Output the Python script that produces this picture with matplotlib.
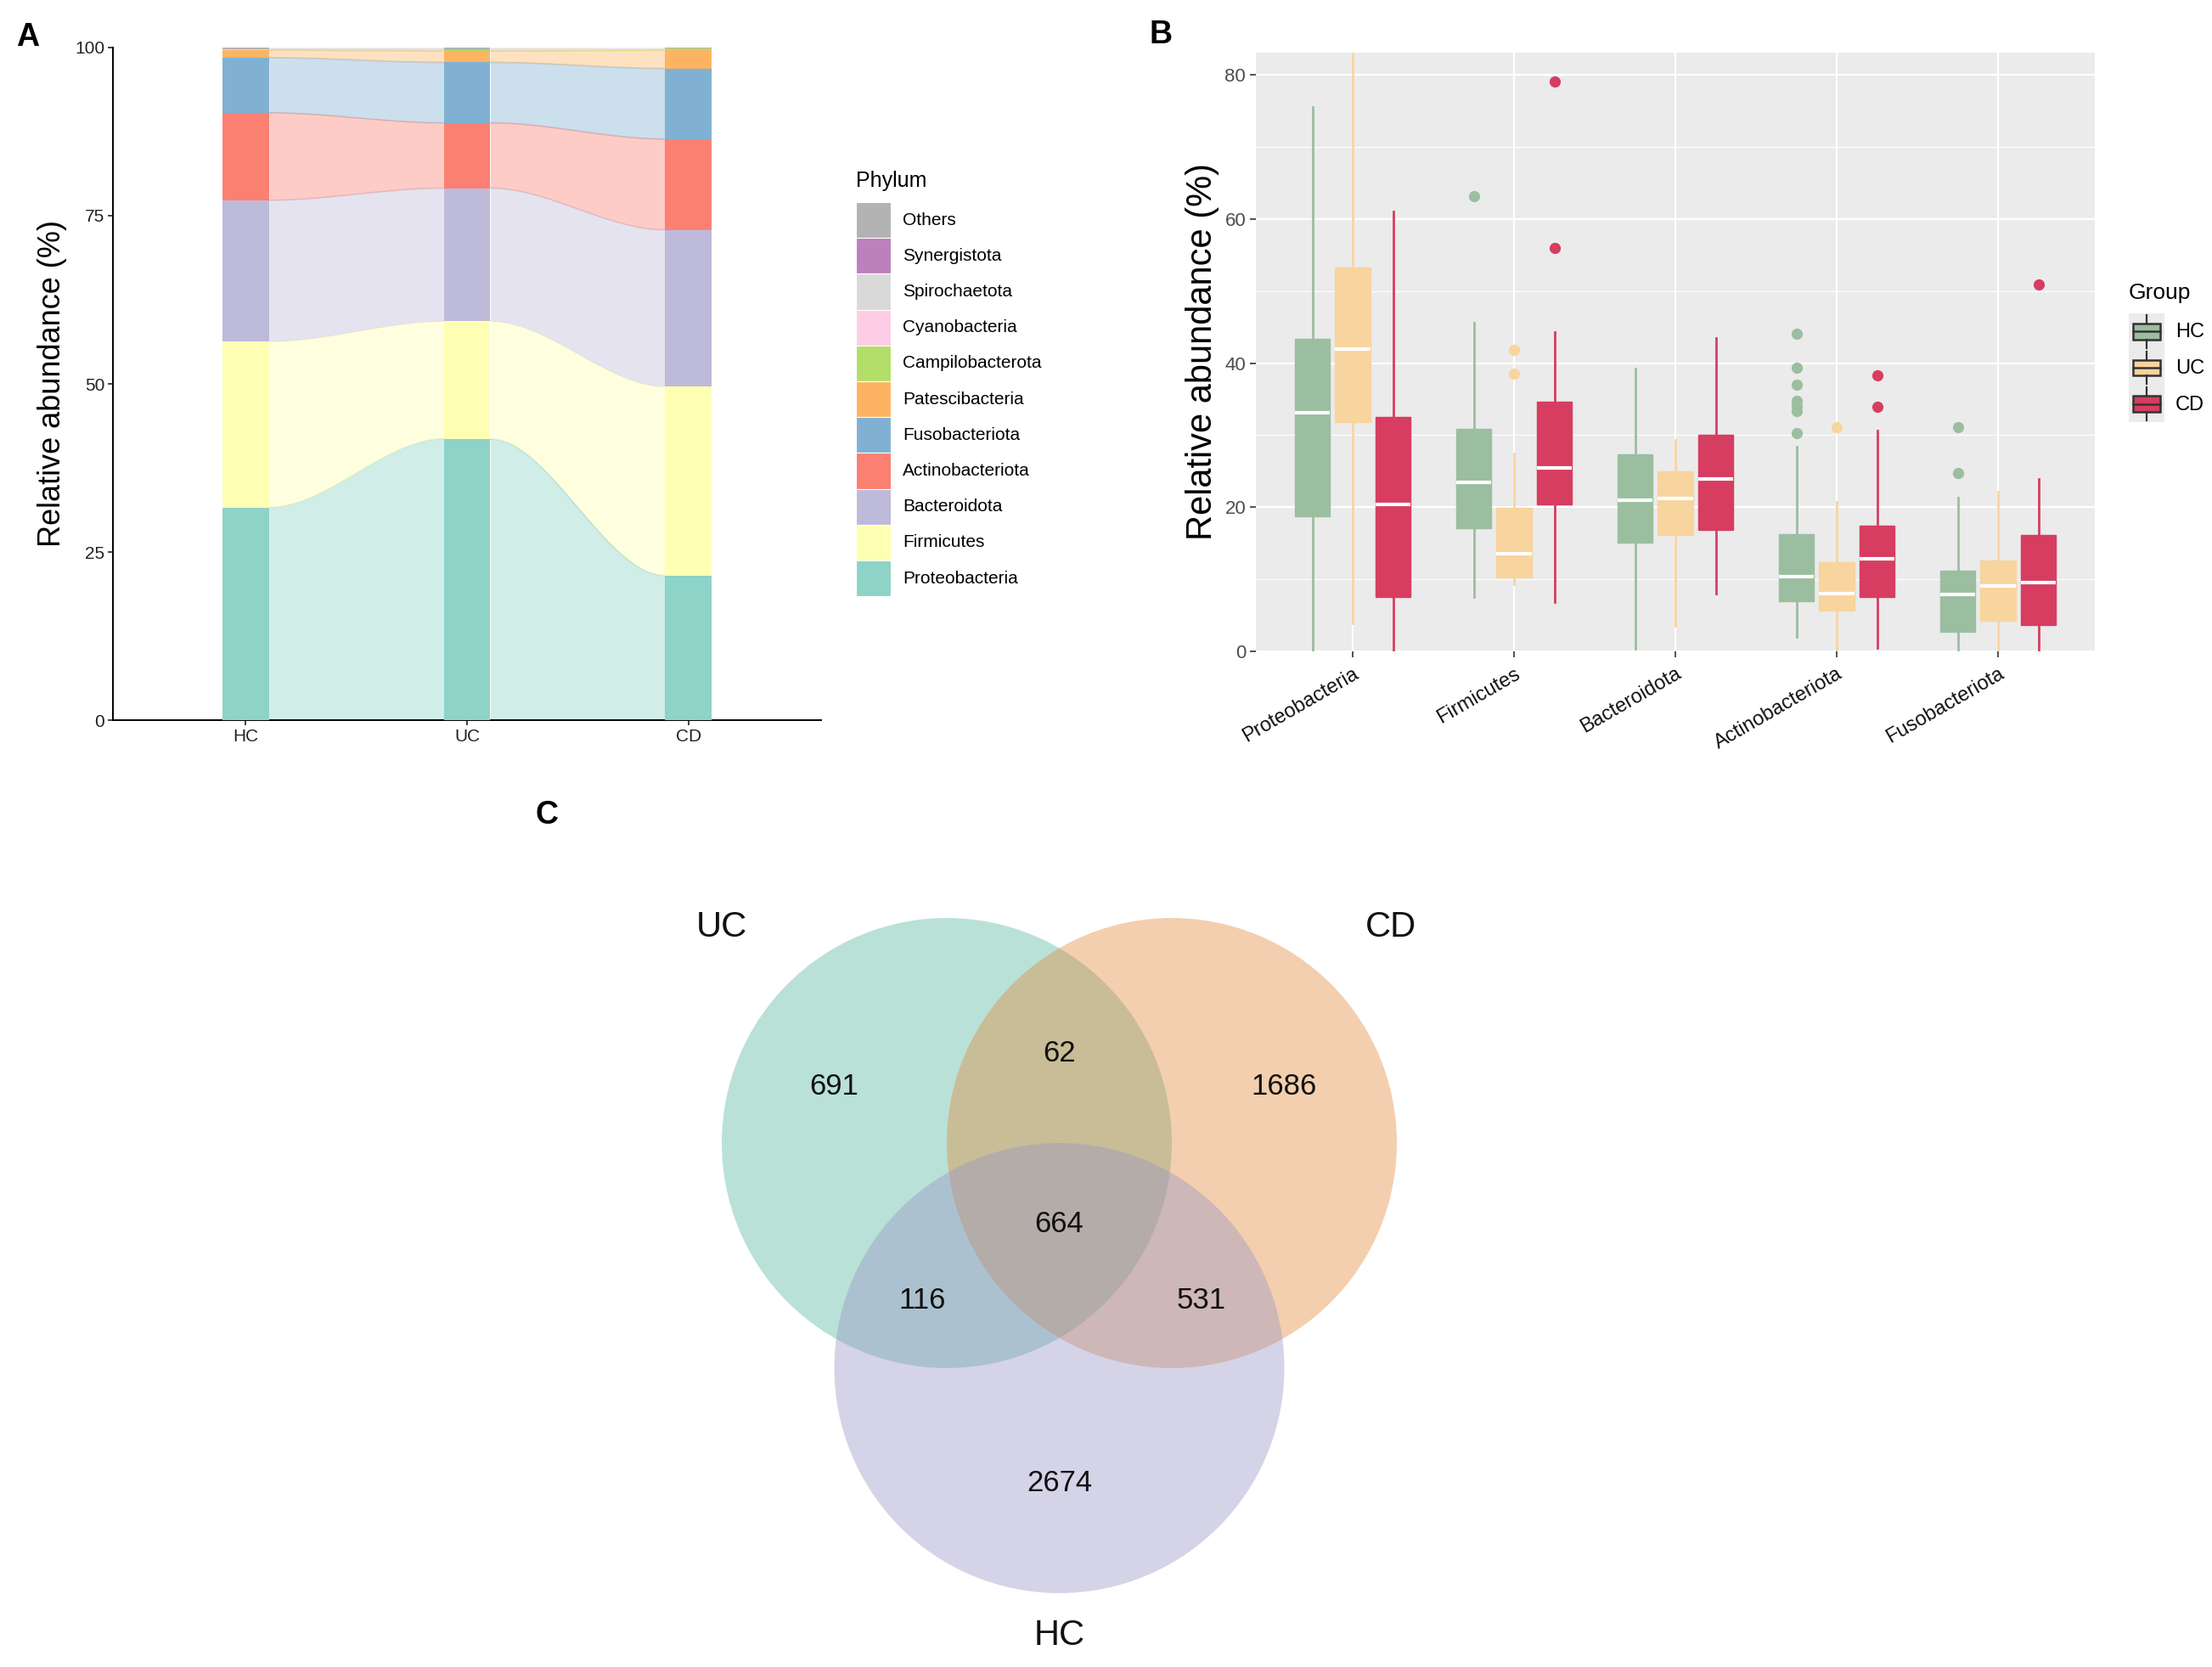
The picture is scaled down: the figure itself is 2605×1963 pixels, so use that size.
import numpy as np
import matplotlib.pyplot as plt
from matplotlib.patches import Circle, Rectangle

plt.rcParams['font.family'] = ['Liberation Sans', 'DejaVu Sans']

# ---------------- panel A: relative abundance per group (stacked, bottom -> top)
groups = ['HC', 'UC', 'CD']
phyla = ['Proteobacteria', 'Firmicutes', 'Bacteroidota', 'Actinobacteriota',
         'Fusobacteriota', 'Patescibacteria', 'Campilobacterota', 'Cyanobacteria',
         'Spirochaetota', 'Synergistota', 'Others']
phylum_colors = ['#8DD3C7', '#FFFFB3', '#BEBADA', '#FB8072', '#80B1D3', '#FDB462',
                 '#B3DE69', '#FCCDE5', '#D9D9D9', '#BC80BD', '#B3B3B3']
abund_hc = [31.6, 24.7, 21.0, 13.0, 8.2, 1.1, 0.05, 0.02, 0.05, 0.01, 0.27]
abund_uc = [41.8, 17.5, 19.8, 9.7, 9.0, 1.7, 0.10, 0.02, 0.05, 0.01, 0.32]
abund_cd = [21.5, 28.1, 23.3, 13.5, 10.5, 2.7, 0.25, 0.02, 0.05, 0.01, 0.07]

# ---------------- panel B: boxplot stats (whislo, q1, med, q3, whishi)
box_cats = ['Proteobacteria', 'Firmicutes', 'Bacteroidota', 'Actinobacteriota', 'Fusobacteriota']
box_groups = ['HC', 'UC', 'CD']
box_colors = ['#9BBEA0', '#F8D49E', '#D63D61']
hc_stats = [(0.0, 18.7, 33.1, 43.4, 75.6), (7.5, 17.1, 23.5, 30.9, 45.6),
            (0.3, 15.1, 21.0, 27.3, 39.3), (2.0, 6.9, 10.4, 16.3, 28.4),
            (0.2, 2.7, 7.9, 11.2, 21.3)]
uc_stats = [(3.9, 31.8, 42.0, 53.3, 88.0), (9.3, 10.3, 13.5, 19.9, 27.5),
            (3.5, 16.1, 21.2, 25.0, 29.3), (0.0, 5.7, 8.0, 12.4, 20.7),
            (0.0, 4.3, 9.1, 12.6, 22.2)]
cd_stats = [(0.0, 7.5, 20.4, 32.5, 61.0), (6.8, 20.4, 25.5, 34.7, 44.3),
            (8.0, 16.9, 23.9, 30.0, 43.5), (0.5, 7.5, 12.8, 17.5, 30.7),
            (0.0, 3.7, 9.6, 16.1, 23.9)]
hc_out = [[], [63.2], [], [44.1, 39.4, 37.0, 34.8, 34.1, 33.4, 30.3], [31.1, 24.8]]
uc_out = [[], [41.9, 38.6], [], [31.1], []]
cd_out = [[], [79.1, 56.0], [], [38.3, 33.9], [50.9]]

# ---------------- panel C: venn counts
venn_sets = ['UC', 'CD', 'HC']
venn_colors = ['#50B69B', '#E18939', '#9893C5']
only_uc, only_cd, only_hc = 691, 1686, 2674
uc_cd, uc_hc, cd_hc = 62, 116, 531
all_three = 664

W, H = 2605, 1963
fig = plt.figure(figsize=(W / 100, H / 100), dpi=100)


def box(x0, y0, x1, y1):
    # pixel box (top-left origin) -> figure fraction
    return [x0 / W, 1 - y1 / H, (x1 - x0) / W, (y1 - y0) / H]


# ===== A =====
axA = fig.add_axes(box(133, 56, 967, 848))
xpos = np.arange(1, len(groups) + 1)
bw = 0.21
stacks = np.array([abund_hc, abund_uc, abund_cd])
bottoms = np.cumsum(stacks, axis=1) - stacks
tops = bottoms + stacks
for j, (name, col) in enumerate(zip(phyla, phylum_colors)):
    axA.bar(xpos, stacks[:, j], bottom=bottoms[:, j], width=bw, color=col,
            linewidth=0, zorder=3)
    for i in range(len(groups) - 1):
        x1, x2 = xpos[i] + bw / 2, xpos[i + 1] - bw / 2
        xs = np.linspace(x1, x2, 80)
        t = (xs - x1) / (x2 - x1)
        s = t * t * (3 - 2 * t)
        lo = bottoms[i, j] + (bottoms[i + 1, j] - bottoms[i, j]) * s
        hi = tops[i, j] + (tops[i + 1, j] - tops[i, j]) * s
        axA.fill_between(xs, lo, hi, color=col, alpha=0.4, linewidth=0, zorder=2)
        if stacks[i, j] > 1:
            axA.plot(xs, hi, color=col, alpha=0.55, lw=1.2, zorder=2)
axA.set_xlim(0.4, 3.6)
axA.set_ylim(0, 100)
axA.set_xticks(xpos)
axA.set_xticklabels(groups)
axA.set_yticks([0, 25, 50, 75, 100])
for sp in ['top', 'right']:
    axA.spines[sp].set_visible(False)
for sp in ['left', 'bottom']:
    axA.spines[sp].set_linewidth(1.4)
axA.tick_params(length=4, width=1.2, labelsize=15, colors='#222222', pad=3)
axA.set_ylabel('Relative abundance (%)', fontsize=26)
axA.yaxis.set_label_coords(-0.065, 0.5)

# legend A
fig.text(1008 / W, 1 - 213 / H, 'Phylum', fontsize=18, va='center', ha='left')
key_h = 42.2
for k, (name, col) in enumerate(zip(phyla[::-1], phylum_colors[::-1])):
    y0 = 238 + k * key_h
    fig.patches.append(Rectangle((1008 / W, 1 - (y0 + key_h) / H), 41 / W, key_h / H,
                                 transform=fig.transFigure, facecolor=col,
                                 edgecolor='white', linewidth=0.8))
    fig.text(1063 / W, 1 - (y0 + key_h / 2) / H, name, fontsize=15, va='center', ha='left')

# ===== B =====
axB = fig.add_axes(box(1479, 62, 2467, 767))
axB.set_facecolor('#EBEBEB')
cat_x = np.arange(1, len(box_cats) + 1)
offsets = [-0.25, 0.0, 0.25]
for stats_list, outs, col, off in zip([hc_stats, uc_stats, cd_stats],
                                      [hc_out, uc_out, cd_out], box_colors, offsets):
    stats = []
    for (wl, q1, med, q3, wh), fl in zip(stats_list, outs):
        stats.append(dict(whislo=wl, q1=q1, med=med, q3=q3, whishi=wh, fliers=fl))
    axB.bxp(stats, positions=cat_x + off, widths=0.22, patch_artist=True,
            showcaps=False, manage_ticks=False,
            boxprops=dict(facecolor=col, edgecolor=col, linewidth=1.0),
            whiskerprops=dict(color=col, linewidth=2.0),
            medianprops=dict(color='white', linewidth=3.0),
            flierprops=dict(marker='o', markerfacecolor=col, markeredgecolor=col,
                            markersize=8.5),
            zorder=3)
axB.set_xlim(0.4, 5.6)
axB.set_ylim(0, 83.1)
axB.set_yticks([0, 20, 40, 60, 80])
axB.set_yticks([10, 30, 50, 70], minor=True)
axB.set_xticks(cat_x)
axB.set_xticklabels(box_cats, rotation=30, ha='right', va='top',
                    rotation_mode='anchor', fontsize=17, color='#111111')
axB.tick_params(axis='y', labelsize=16, labelcolor='#4D4D4D', color='#333333',
                length=5, width=1.2)
axB.tick_params(axis='x', color='#333333', length=5, width=1.2, pad=6)
axB.tick_params(which='minor', length=0)
axB.grid(which='major', color='white', linewidth=1.6, zorder=0)
axB.grid(which='minor', axis='y', color='white', linewidth=0.8, zorder=0)
axB.set_axisbelow(True)
for sp in axB.spines.values():
    sp.set_visible(False)
axB.set_ylabel('Relative abundance (%)', fontsize=30)
axB.yaxis.set_label_coords(-0.044, 0.5)

# legend B
fig.text(2507 / W, 1 - 345 / H, 'Group', fontsize=19, va='center', ha='left')
axL = fig.add_axes(box(2507, 369, 2549, 497))
axL.set_facecolor('#EBEBEB')
axL.set_xlim(0, 1)
axL.set_ylim(3, 0)
for k, (g, col) in enumerate(zip(box_groups, box_colors)):
    axL.add_patch(Rectangle((0.12, k + 0.28), 0.76, 0.44, facecolor=col,
                            edgecolor='#333333', linewidth=1.8))
    axL.plot([0.12, 0.88], [k + 0.5, k + 0.5], color='#333333', lw=1.8)
    axL.plot([0.5, 0.5], [k + 0.05, k + 0.28], color='#333333', lw=1.6)
    axL.plot([0.5, 0.5], [k + 0.72, k + 0.95], color='#333333', lw=1.6)
    fig.text(2562 / W, 1 - (391 + 43 * k) / H, g, fontsize=17, va='center', ha='left')
axL.set_xticks([])
axL.set_yticks([])
for sp in axL.spines.values():
    sp.set_visible(False)

# ===== C =====
axC = fig.add_axes(box(717.5, 1001.5, 1777.5, 1955.5))
axC.set_xlim(-2, 2)
axC.set_ylim(-2.3, 1.3)
axC.axis('off')
centers = [(-0.5, 0.0), (0.5, 0.0), (0.0, -1.0)]
for (cx, cy), col in zip(centers, venn_colors):
    axC.add_patch(Circle((cx, cy), 1.0, facecolor=col, alpha=0.4, edgecolor='none'))
counts = [(only_uc, -1.0, 0.25), (uc_cd, 0.0, 0.40), (only_cd, 1.0, 0.25),
          (all_three, 0.0, -0.36), (uc_hc, -0.61, -0.70), (cd_hc, 0.63, -0.70),
          (only_hc, 0.0, -1.51)]
for n, tx, ty in counts:
    axC.text(tx, ty, str(n), fontsize=25, ha='center', va='center', color='#111111')
for name, tx, ty in zip(venn_sets, [-1.50, 1.475, 0.0], [0.96, 0.96, -2.19]):
    axC.text(tx, ty, name, fontsize=30, ha='center', va='center', color='#111111')

# panel letters
fig.text(19 / W, 1 - 26 / H, 'A', fontsize=27, fontweight='bold', va='top', ha='left')
fig.text(1354 / W, 1 - 23 / H, 'B', fontsize=27, fontweight='bold', va='top', ha='left')
fig.text(630 / W, 1 - 942 / H, 'C', fontsize=27, fontweight='bold', va='top', ha='left')

fig.savefig('out.png', dpi=100)
